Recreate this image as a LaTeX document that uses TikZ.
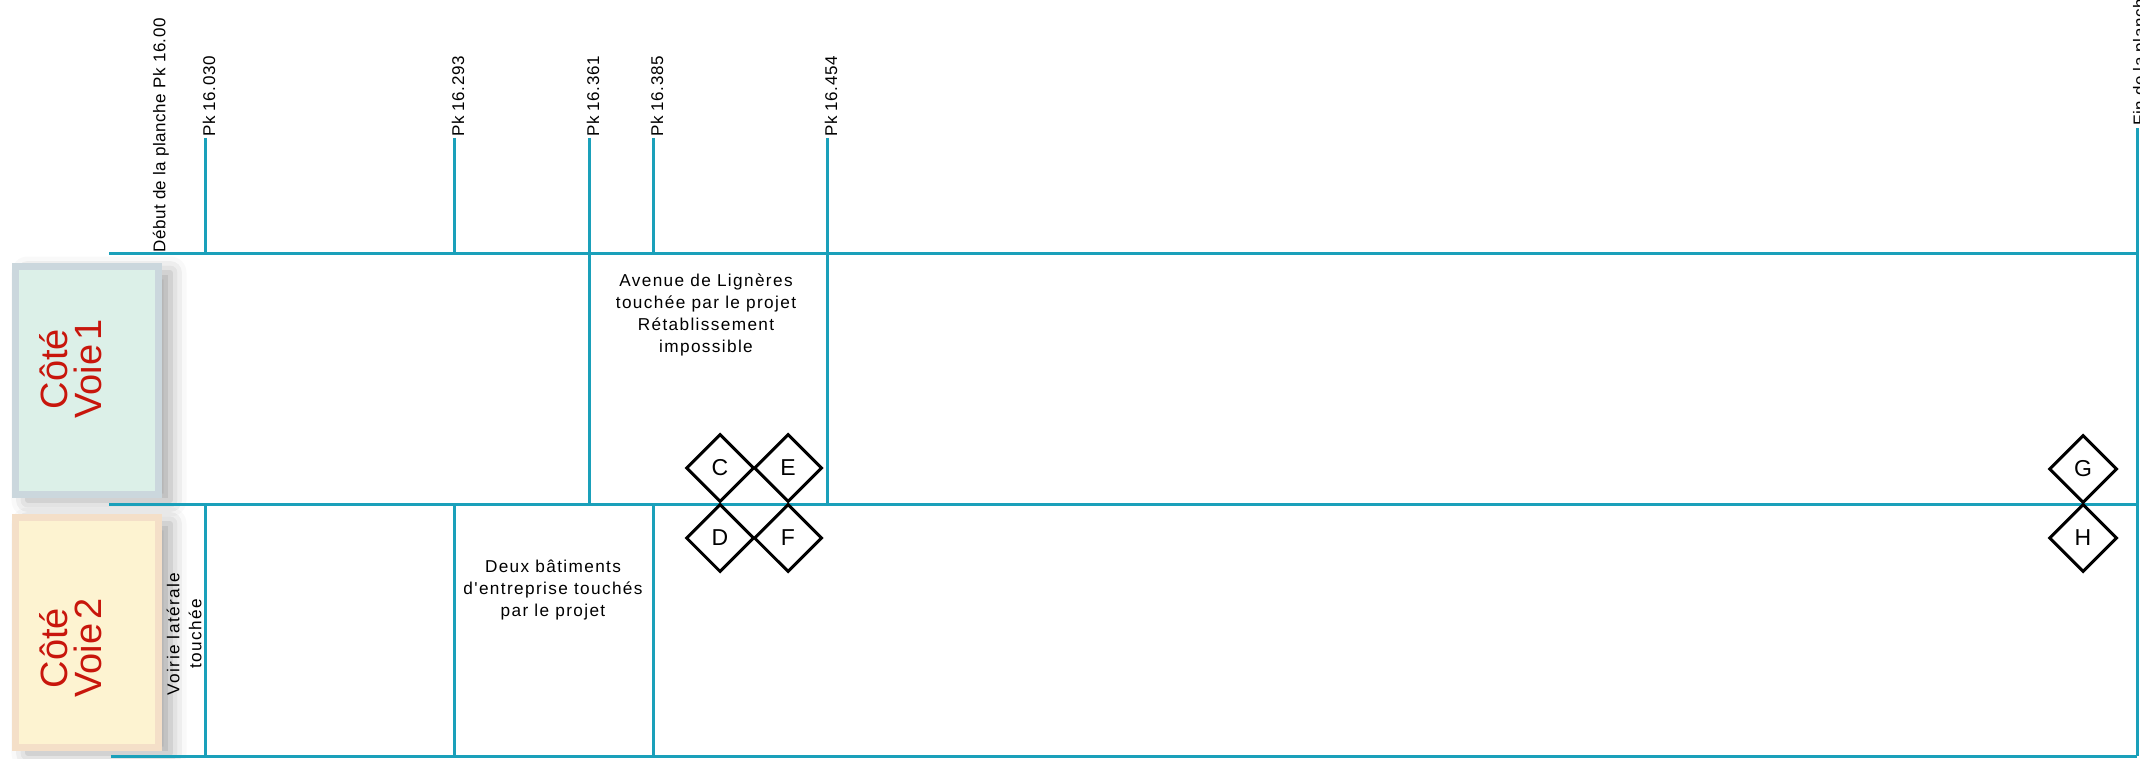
\documentclass[tikz,border=0pt]{standalone}
\usepackage{fontspec}
\setmainfont{Liberation Sans}
\newfontfamily\notefont[LetterSpace=8]{Liberation Sans}
\newfontfamily\pkfont[LetterSpace=3]{Liberation Sans}
\newfontfamily\voiefont[WordSpace=0.35]{Liberation Sans}
\usetikzlibrary{shapes.geometric,shadows.blur}

\definecolor{pkline}{RGB}{26,160,186}
\definecolor{voiered}{RGB}{200,22,12}
\definecolor{voieoneborder}{RGB}{203,215,221}
\definecolor{voieonefill}{RGB}{220,240,232}
\definecolor{voietwoborder}{RGB}{244,223,200}
\definecolor{voietwofill}{RGB}{253,243,209}

\tikzset{
  pk/.style={draw=pkline, line width=1.5pt},
  pklabel/.style={rotate=90, anchor=west, inner sep=0pt, font=\pkfont\fontsize{8.5}{10}\selectfont},
  voiebox/.style={line width=3.5pt, blur shadow={shadow xshift=6pt, shadow yshift=-3pt, shadow blur radius=8pt, shadow opacity=35}},
  voietext/.style={rotate=90, align=center, text=voiered, inner sep=0pt, font=\voiefont\fontsize{19}{17}\selectfont},
  sign/.style={diamond, draw=black, fill=white, line width=1.5pt, minimum width=34pt, minimum height=34pt, inner sep=0pt, font=\fontsize{11.5}{12}\selectfont},
  note/.style={align=center, inner sep=0pt, font=\notefont\fontsize{8.6}{11}\selectfont}
}

\begin{document}
\begin{tikzpicture}[x=0.5pt, y=-0.5pt]
  \useasboundingbox (0,0) rectangle (2140,759);

  % side boxes
  \draw[voiebox, draw=voieoneborder, fill=voieonefill] (15.5,266.5) rectangle (158.5,494.5);
  \draw[voiebox, draw=voietwoborder, fill=voietwofill] (15.5,517.5) rectangle (158.5,747.5);
  \node[voietext] (voie1) at (71,369) {Côté\\Voie 1};
  \node[voietext] (voie2) at (71,648) {Côté\\Voie 2};

  % band limits
  \coordinate (top west) at (109,254);
  \coordinate (top east) at (2137,254);
  \coordinate (mid west) at (109,504);
  \coordinate (mid east) at (2137,504);
  \coordinate (bot west) at (111,756);
  \coordinate (bot east) at (2137,756);
  \draw[pk] (top west) -- (top east);
  \draw[pk] (mid west) -- (mid east);
  \draw[pk] (bot west) -- (bot east);

  % points kilometriques
  \foreach \x/\pk/\n in {205/16.030/a, 454/16.293/b, 589/16.361/c, 653/16.385/d, 827/16.454/e} {
    \coordinate (pk\n) at (\x,138);
    \draw[pk] (pk\n) -- (pk\n |- top west);
    \node[pklabel] (pk\n label) at (\x+4,137) {Pk \pk};
  }
  \draw[pk] (pkc |- top west) -- (pkc |- mid west);
  \draw[pk] (pke |- top west) -- (pke |- mid west);
  \foreach \n in {a,b,d}
    \draw[pk] (pk\n |- mid west) -- (pk\n |- bot west);

  \node[pklabel] (debut) at (161,253) {Début de la planche Pk 16.00};
  \coordinate (fin) at (2137,128);
  \draw[pk] (fin) -- (fin |- bot west);
  \node[pklabel] (finlabel) at (2141,126) {Fin de la planche};

  % notes
  \node[note] (avenue) at (706,315) {Avenue de Lignères\\touchée par le projet\\Rétablissement\\impossible};
  \node[note] (batiments) at (553,590) {Deux bâtiments\\d'entreprise touchés\\par le projet};
  \node[note, rotate=90] (voirie) at (184,634) {Voirie latérale\\touchée};

  % signs
  \node[sign] (C) at (720,468) {C};
  \node[sign] (E) at (788,468) {E};
  \node[sign] (D) at (720,538) {D};
  \node[sign] (F) at (788,538) {F};
  \node[sign] (G) at (2083,469) {G};
  \node[sign] (H) at (2083,538) {H};
\end{tikzpicture}
\end{document}
